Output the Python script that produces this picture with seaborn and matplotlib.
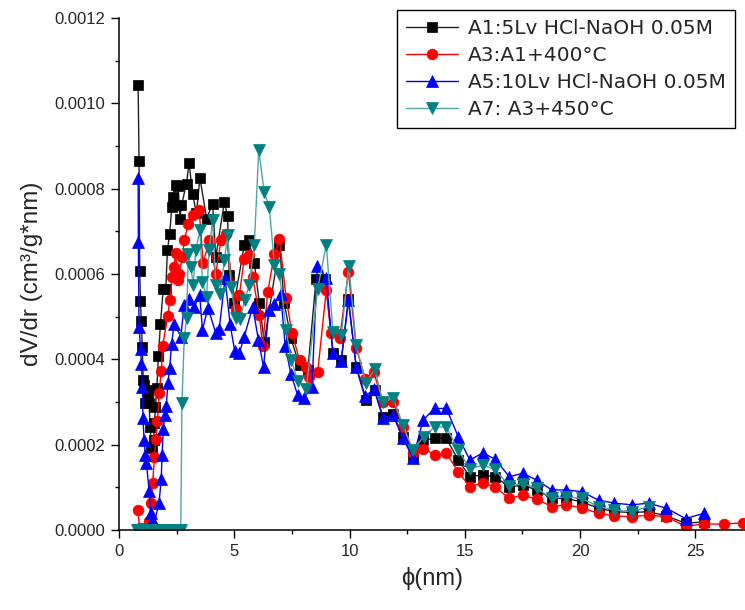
import numpy as np
import matplotlib
matplotlib.use("Agg")
import matplotlib.pyplot as plt
import seaborn as sns
from matplotlib.ticker import MultipleLocator, FormatStrFormatter

# pore diameter (nm) and dV/dr values (in units of 1e-4 cm3/g*nm)
a1_x = [0.83, 0.87, 0.90, 0.93, 0.97, 1.01, 1.05, 1.10, 1.14, 1.20, 1.25, 1.30, 1.36, 1.40, 1.45,
        1.50, 1.54, 1.58, 1.64, 1.71, 1.80, 1.92, 2.03, 2.10, 2.20, 2.29, 2.35, 2.46, 2.57, 2.64,
        2.71, 2.93, 3.04, 3.19, 3.36, 3.51, 3.80, 4.06, 4.20, 4.57, 4.71, 4.78, 5.00, 5.43, 5.62,
        5.87, 6.09, 6.30, 6.96, 7.17, 7.46, 7.83, 8.19, 8.55, 8.95, 9.28, 9.64, 9.95, 10.29, 10.70,
        11.09, 11.45, 11.88, 12.32, 12.75, 13.19, 13.70, 14.20, 14.71, 15.22, 15.77, 16.30, 16.93, 17.51, 18.12,
        18.77, 19.39, 20.07, 20.80, 21.49, 22.25, 22.97, 23.74, 24.57, 25.36]
a1_y = [10.44, 8.64, 6.07, 5.37, 4.89, 4.29, 3.51, 3.40, 2.97, 3.28, 3.12, 2.97, 2.42, 1.95, 1.92,
        2.11, 2.50, 2.89, 3.32, 4.08, 4.84, 5.66, 5.64, 6.56, 6.95, 7.57, 7.81, 8.08, 8.06, 7.30,
        7.61, 8.12, 8.61, 7.88, 7.42, 8.26, 7.30, 7.65, 6.40, 7.69, 7.35, 5.97, 5.31, 6.67, 6.79,
        6.25, 5.31, 4.41, 6.67, 5.31, 4.49, 3.86, 3.75, 5.89, 5.89, 4.14, 3.98, 5.41, 3.82, 3.04,
        3.28, 2.65, 2.73, 2.19, 1.72, 2.11, 2.15, 2.15, 1.64, 1.25, 1.29, 1.25, 1.01, 1.05, 0.94,
        0.74, 0.74, 0.66, 0.51, 0.43, 0.41, 0.43, 0.33, 0.16, 0.19]

a3_x = [0.81, 0.90, 1.00, 1.10, 1.20, 1.30, 1.40, 1.46, 1.54, 1.60, 1.67, 1.74, 1.84, 1.89, 2.12,
        2.20, 2.32, 2.39, 2.46, 2.54, 2.61, 2.75, 2.83, 3.01, 3.19, 3.48, 3.65, 3.91, 4.20, 4.42,
        4.64, 5.07, 5.22, 5.43, 5.65, 5.80, 6.09, 6.23, 6.45, 6.74, 6.96, 7.25, 7.51, 7.83, 8.12,
        8.26, 8.62, 8.99, 9.20, 9.57, 9.95, 10.29, 10.68, 11.04, 11.45, 11.88, 12.32, 12.75, 13.19, 13.70,
        14.20, 14.71, 15.22, 15.78, 16.31, 16.93, 17.51, 18.12, 18.77, 19.39, 20.07, 20.80, 21.49, 22.25, 22.97,
        23.74, 24.57, 25.36, 26.23, 27.07]
a3_y = [0.47, 0.05, 0.03, 0.03, 0.08, 0.20, 0.64, 1.11, 1.70, 2.13, 2.56, 3.22, 3.72, 4.31, 5.02,
        5.38, 5.93, 6.17, 6.50, 5.86, 6.01, 6.40, 6.79, 7.18, 7.38, 7.49, 6.25, 6.79, 6.01, 6.79,
        6.93, 5.18, 5.50, 6.36, 6.44, 5.93, 5.03, 4.32, 5.58, 6.46, 6.83, 5.43, 4.61, 3.98, 3.82,
        3.59, 3.71, 5.62, 4.61, 4.49, 6.05, 4.27, 3.55, 3.71, 2.99, 3.01, 2.42, 1.80, 1.91, 1.76,
        1.80, 1.37, 1.01, 1.11, 1.01, 0.74, 0.82, 0.72, 0.55, 0.59, 0.52, 0.39, 0.33, 0.31, 0.35,
        0.31, 0.09, 0.14, 0.14, 0.17]

a5_x = [0.83, 0.84, 0.87, 0.94, 0.97, 1.02, 1.04, 1.09, 1.14, 1.19, 1.31, 1.37, 1.45, 1.53, 1.74,
        1.83, 1.87, 1.92, 1.99, 2.05, 2.12, 2.20, 2.28, 2.40, 2.68, 2.83, 3.04, 3.26, 3.50, 3.62,
        3.86, 4.20, 4.35, 4.60, 4.82, 5.02, 5.22, 5.43, 5.80, 6.05, 6.27, 6.50, 6.74, 7.01, 7.21,
        7.46, 7.75, 8.04, 8.37, 8.60, 8.99, 9.28, 9.64, 9.95, 10.29, 10.68, 11.06, 11.45, 11.88, 12.32,
        12.75, 13.19, 13.70, 14.20, 14.71, 15.22, 15.78, 16.31, 16.93, 17.51, 18.12, 18.77, 19.39, 20.07, 20.80,
        21.49, 22.25, 22.97, 23.74, 24.57, 25.36]
a5_y = [8.24, 6.75, 4.76, 4.25, 3.90, 3.36, 2.62, 2.11, 1.76, 1.56, 0.92, 0.41, 0.20, 0.17, 0.64,
        1.19, 1.76, 2.36, 2.70, 2.90, 3.44, 3.80, 4.37, 4.84, 4.53, 5.27, 5.41, 5.23, 5.50, 4.70,
        5.21, 4.61, 4.72, 5.90, 4.82, 4.20, 4.14, 4.53, 5.23, 4.45, 3.82, 5.15, 5.30, 5.54, 4.31,
        3.65, 3.16, 3.10, 3.36, 6.19, 5.91, 4.14, 3.96, 5.39, 3.82, 3.14, 3.30, 2.63, 2.69, 2.15,
        1.68, 2.58, 2.85, 2.85, 2.19, 1.64, 1.81, 1.66, 1.25, 1.33, 1.17, 0.94, 0.94, 0.90, 0.70,
        0.63, 0.59, 0.63, 0.51, 0.27, 0.39]

a7_x = [0.78, 0.83, 0.87, 0.93, 0.97, 1.02, 1.07, 1.12, 1.18, 1.25, 1.32, 1.40, 1.48, 1.56, 1.65,
        1.74, 1.84, 1.94, 2.05, 2.16, 2.28, 2.41, 2.55, 2.68, 2.73, 2.83, 2.93, 3.01, 3.12, 3.22,
        3.33, 3.51, 3.62, 3.80, 3.91, 4.06, 4.20, 4.38, 4.57, 4.71, 4.86, 5.07, 5.25, 5.45, 5.65,
        5.87, 6.06, 6.30, 6.52, 6.74, 6.96, 7.25, 7.48, 7.75, 8.12, 8.62, 8.99, 9.28, 9.64, 9.97,
        10.29, 10.70, 11.09, 11.45, 11.88, 12.32, 12.75, 13.21, 13.70, 14.20, 14.71, 15.22, 15.78, 16.31, 16.93,
        17.51, 18.12, 18.77, 19.39, 20.07, 20.80, 21.49, 22.25, 22.97]
a7_y = [0.00, 0.00, 0.00, 0.00, 0.00, 0.00, 0.00, 0.00, 0.00, 0.00, 0.00, 0.00, 0.00, 0.00, 0.00,
        0.00, 0.00, 0.00, 0.00, 0.00, 0.00, 0.00, 0.00, 0.00, 2.97, 4.49, 4.96, 6.48, 6.17, 5.74,
        6.56, 7.03, 5.82, 5.46, 6.56, 7.26, 5.74, 5.54, 6.32, 6.91, 5.70, 4.98, 4.94, 5.39, 5.74,
        6.69, 8.90, 7.92, 7.57, 6.22, 6.01, 4.68, 3.98, 3.50, 3.30, 5.66, 6.69, 4.65, 4.57, 6.19,
        4.33, 3.44, 3.77, 2.99, 3.10, 2.46, 1.87, 2.19, 2.42, 2.42, 1.87, 1.44, 1.52, 1.42, 1.03,
        1.09, 0.98, 0.74, 0.78, 0.74, 0.55, 0.47, 0.43, 0.55]

labels = ["A1:5Lv HCl-NaOH 0.05M", "A3:A1+400°C", "A5:10Lv HCl-NaOH 0.05M", "A7: A3+450°C"]

sns.set_style("ticks")
plt.rcParams["font.family"] = ["Liberation Sans", "DejaVu Sans"]

fig = plt.figure(figsize=(7.45, 6.10), dpi=100)
ax = fig.add_axes([0.1597, 0.1311, 0.8403, 0.8393])

series = [
    (a1_x, a1_y, "s", "#202020", "black", 6.5),
    (a3_x, a3_y, "o", "#ff0000", "#ff0000", 7.7),
    (a5_x, a5_y, "^", "#0000ff", "#0000ff", 8.3),
    (a7_x, a7_y, "v", "#4ea6a6", "#008080", 8.3),
]
for (xs, ys, mk, lc, mc, ms), lab in zip(series, labels):
    sns.lineplot(x=np.array(xs), y=np.array(ys) * 1e-4, ax=ax, sort=False,
                 marker=mk, color=lc, markerfacecolor=mc, markeredgecolor=mc,
                 markeredgewidth=0.5, markersize=ms, linewidth=1.0, label=lab)

ax.set_xlim(0, 27.15)
ax.set_ylim(0, 0.0012)
ax.xaxis.set_major_locator(MultipleLocator(5))
ax.xaxis.set_minor_locator(MultipleLocator(2.5))
ax.yaxis.set_major_locator(MultipleLocator(0.0002))
ax.yaxis.set_minor_locator(MultipleLocator(0.0001))
ax.yaxis.set_major_formatter(FormatStrFormatter("%.4f"))
ax.tick_params(which="major", direction="out", length=6, width=1.0, labelsize=12, pad=4, color="black")
ax.tick_params(which="minor", direction="out", length=3, width=1.0, color="black")
sns.despine(ax=ax)
for s in ["left", "bottom"]:
    ax.spines[s].set_linewidth(1.1)
    ax.spines[s].set_color("black")

ax.set_xlabel("ϕ(nm)", fontsize=17, labelpad=6)
ax.set_ylabel("dV/dr (cm³/g*nm)", fontsize=17.5, labelpad=8)

leg = ax.legend(loc="upper right", bbox_to_anchor=(0.984, 1.016), borderaxespad=0,
                frameon=True, fancybox=False, framealpha=1, edgecolor="black",
                prop={"family": "DejaVu Sans", "size": 14.5}, handlelength=2.6,
                labelspacing=0.4, borderpad=0.45, handletextpad=0.5)
leg.get_frame().set_linewidth(1.0)

fig.savefig("out.png", dpi=100)
